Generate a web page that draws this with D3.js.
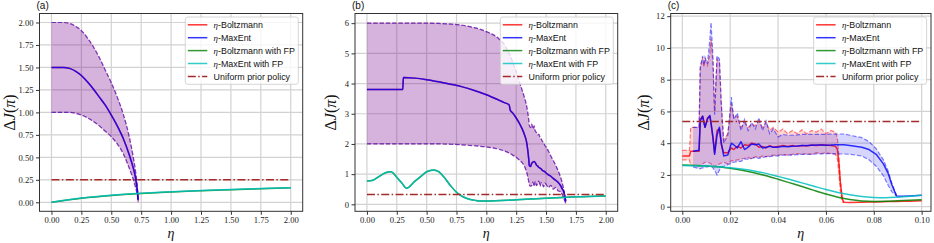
<!DOCTYPE html>
<html>
<head>
<meta charset="utf-8">
<script src="https://cdn.jsdelivr.net/npm/d3@7"></script>
<style>
body { margin: 0; background: #fff; }
svg { display: block; }
</style>
</head>
<body>
<script>
// ---- panel (a) ----
var etaA = [0, 0.05, 0.1, 0.15, 0.2, 0.25, 0.3, 0.35, 0.4, 0.45, 0.5, 0.55, 0.6, 0.65, 0.68, 0.7, 0.71, 0.72, 0.725];
var maxentA   = [1.5, 1.5, 1.5, 1.49, 1.46, 1.41, 1.34, 1.26, 1.17, 1.08, 0.97, 0.85, 0.71, 0.53, 0.4, 0.29, 0.21, 0.1, 0.02];
var maxentHiA = [2, 2, 2, 1.99, 1.96, 1.91, 1.83, 1.73, 1.61, 1.47, 1.33, 1.17, 0.98, 0.73, 0.53, 0.37, 0.27, 0.13, 0.02];
var maxentLoA = [1, 1, 1, 1, 0.99, 0.97, 0.94, 0.9, 0.85, 0.79, 0.73, 0.65, 0.54, 0.38, 0.27, 0.18, 0.13, 0.06, 0.0];
// boltzmann curves lie exactly under the maxent ones here
var boltzA = maxentA, boltzHiA = maxentHiA, boltzLoA = maxentLoA;
var etaFpA = [0, 0.25, 0.5, 0.75, 1, 1.25, 1.5, 1.75, 2];
var fpMaxentA = [0, 0.047, 0.078, 0.1, 0.117, 0.131, 0.143, 0.154, 0.163];
var fpBoltzA  = [0, 0.045, 0.076, 0.098, 0.115, 0.129, 0.141, 0.152, 0.161];

// ---- panel (b) ----
var etaB = [0, 0.1, 0.2, 0.3, 0.305, 0.4, 0.5, 0.6, 0.7, 0.8, 0.9, 1.0, 1.1, 1.15, 1.19, 1.2, 1.22, 1.25, 1.28, 1.3,
            1.32, 1.335, 1.345, 1.355, 1.36, 1.37, 1.38, 1.39, 1.4, 1.41, 1.42, 1.43, 1.44, 1.45, 1.46, 1.47, 1.48, 1.49,
            1.5, 1.52, 1.54, 1.56, 1.58, 1.6, 1.62, 1.635, 1.65, 1.665];
var maxentB   = [3.8, 3.8, 3.8, 3.8, 4.2, 4.18, 4.13, 4.06, 3.98, 3.89, 3.77, 3.63, 3.46, 3.37, 3.3, 3.12, 3.03, 2.86, 2.66, 2.5,
                 2.3, 2.1, 1.85, 1.5, 1.28, 1.25, 1.36, 1.4, 1.42, 1.38, 1.3, 1.27, 1.22, 1.2, 1.17, 1.12, 1.1, 1.08,
                 1.04, 0.98, 0.93, 0.86, 0.8, 0.73, 0.63, 0.52, 0.4, 0.1];
var maxentHiB = [6, 6, 6, 6, 6, 6, 6, 5.99, 5.97, 5.93, 5.85, 5.72, 5.5, 5.3, 5.0, 4.92, 4.72, 4.4, 4.02, 3.78,
                 3.52, 3.3, 3.08, 2.8, 2.62, 2.55, 2.66, 2.5, 2.6, 2.42, 2.38, 2.3, 2.32, 2.2, 2.16, 2.08, 2.04, 1.95,
                 1.9, 1.76, 1.6, 1.45, 1.3, 1.12, 0.92, 0.72, 0.45, 0.12];
var maxentLoB = [2, 2, 2, 2, 2, 2, 2, 2, 1.99, 1.97, 1.94, 1.9, 1.83, 1.77, 1.7, 1.68, 1.63, 1.56, 1.45, 1.38,
                 1.25, 1.1, 0.95, 0.75, 0.65, 0.6, 0.62, 0.74, 0.6, 0.76, 0.62, 0.7, 0.77, 0.6, 0.72, 0.66, 0.58, 0.7,
                 0.66, 0.56, 0.63, 0.5, 0.56, 0.45, 0.42, 0.33, 0.18, 0.04];
var boltzB = maxentB, boltzHiB = maxentHiB, boltzLoB = maxentLoB;
var etaFpB = [0, 0.05, 0.1, 0.15, 0.2, 0.25, 0.3, 0.33, 0.4, 0.45, 0.5, 0.56, 0.6, 0.65, 0.7, 0.75, 0.8, 0.85, 0.9, 0.95, 1.0, 1.25, 1.5, 1.75, 2.0];
var fpMaxentB = [0.77, 0.8, 0.92, 1.04, 1.08, 0.9, 0.67, 0.53, 0.76, 0.92, 1.08, 1.14, 1.08, 0.88, 0.62, 0.4, 0.26, 0.18, 0.14, 0.11, 0.11, 0.15, 0.2, 0.25, 0.28];
var fpBoltzB  = fpMaxentB;

// ---- panel (c) ----
var etaC = [0, 0.003, 0.0035, 0.0045, 0.007, 0.0075, 0.0085, 0.009, 0.0095, 0.0105,
            0.0115, 0.012, 0.0128, 0.0135, 0.0145, 0.0155, 0.0163, 0.0173, 0.019, 0.0205,
            0.0215, 0.023, 0.0245, 0.026, 0.0275, 0.029, 0.0305, 0.032, 0.0335, 0.035,
            0.0365, 0.038, 0.04, 0.042, 0.044, 0.046, 0.048, 0.05, 0.052, 0.054,
            0.056, 0.058, 0.06, 0.062, 0.064, 0.0648, 0.0655, 0.066, 0.0668, 0.0675,
            0.07, 0.075, 0.078, 0.081, 0.084, 0.086, 0.0875, 0.0895, 0.092, 0.095, 0.1];
var boltzC = [3.2, 3.2, 3.5, 3.5, 3.5, 5.5, 5.7, 5.4, 5.0, 5.6,
              5.7, 5.2, 4.3, 3.4, 4.8, 4.9, 3.9, 3.4, 3.4, 3.7,
              3.6, 3.8, 3.7, 3.9, 3.85, 4.0, 3.95, 3.75, 3.8, 3.7,
              3.85, 3.75, 3.8, 3.85, 3.8, 3.85, 3.8, 3.85, 3.82, 3.88,
              3.85, 3.9, 3.88, 3.85, 3.8, 3.6, 2.6, 1.6, 0.5, 0.28,
              0.27, 0.28, 0.29, 0.3, 0.31, 0.32, 0.32, 0.33, 0.34, 0.35, 0.38];
var boltzHiC = [3.55, 3.55, 5.0, 5.0, 5.0, 8.7, 9.4, 8.8, 9.3, 8.9,
                9.6, 10.6, 9.0, 6.0, 9.3, 9.1, 6.4, 4.2, 4.6, 6.5,
                5.6, 5.7, 5.0, 5.3, 5.0, 5.2, 5.1, 5.4, 5.0, 5.3,
                4.8, 5.0, 4.7, 4.9, 4.6, 4.8, 4.6, 4.85, 4.6, 4.8,
                4.7, 4.9, 4.6, 4.8, 4.7, 4.3, 3.0, 1.6, 0.6, 0.3,
                null, null, null, null, null, null, null, null, null, null, null];
var boltzLoC = [2.95, 2.95, 2.6, 2.58, 2.55, 2.6, 2.7, 2.75, 2.8, 2.8,
                2.75, 2.7, 2.6, 2.5, 2.6, 2.7, 2.75, 2.8, 2.7, 2.9,
                2.9, 2.95, 3.0, 3.05, 3.1, 3.0, 3.15, 3.1, 3.2, 3.15,
                3.2, 3.25, 3.25, 3.3, 3.25, 3.3, 3.35, 3.3, 3.35, 3.3,
                3.4, 3.35, 3.4, 3.35, 3.3, 3.0, 2.0, 1.0, 0.3, 0.26,
                null, null, null, null, null, null, null, null, null, null, null];
var maxentC = [null, null, null, 3.5, 3.55, 5.4, 5.7, 5.3, 5.0, 5.5,
               5.75, 5.3, 4.4, 3.3, 4.5, 5.0, 4.0, 3.2, 3.25, 4.0,
               3.9, 3.7, 4.1, 3.6, 3.75, 3.95, 3.9, 3.95, 3.7, 3.75,
               3.8, 3.75, 3.75, 3.8, 3.78, 3.8, 3.82, 3.85, 3.85, 3.87,
               3.88, 3.88, 3.87, 3.88, 3.9, 3.9, 3.9, 3.9, 3.9, 3.9,
               3.85, 3.75, 3.6, 3.3, 2.7, 2.1, 1.4, 0.67, 0.66, 0.68, 0.72];
var maxentHiC = [null, null, null, 5.0, 5.0, 8.8, 9.5, 8.9, 9.4, 9.0,
                 10.5, 11.6, 9.5, 5.8, 9.5, 9.3, 6.5, 4.0, 4.5, 6.9,
                 5.5, 5.9, 4.8, 5.5, 4.8, 5.3, 4.9, 5.6, 4.8, 5.4,
                 4.6, 4.9, 4.4, 4.55, 4.5, 4.5, 4.52, 4.55, 4.55, 4.55,
                 4.56, 4.56, 4.56, 4.57, 4.57, 4.58, 4.58, 4.58, 4.58, 4.58,
                 4.5, 4.35, 4.1, 3.65, 2.95, 2.25, 1.5, 0.7, null, null, null];
var maxentLoC = [null, null, null, 2.5, 2.4, 2.4, 2.45, 2.45, 2.5, 2.5,
                 2.55, 2.55, 2.45, 2.3, 2.0, 2.3, 2.5, 2.55, 2.65, 2.75,
                 2.8, 2.85, 2.85, 3.0, 3.0, 3.05, 3.1, 3.05, 3.1, 3.15,
                 3.15, 3.2, 3.2, 3.25, 3.25, 3.25, 3.28, 3.3, 3.3, 3.3,
                 3.32, 3.33, 3.35, 3.34, 3.33, 3.33, 3.33, 3.32, 3.32, 3.32,
                 3.3, 3.2, 2.95, 2.55, 1.95, 1.35, 0.95, 0.67, null, null, null];
var etaFpC = [0, 0.01, 0.02, 0.03, 0.035, 0.04, 0.045, 0.05, 0.055, 0.06, 0.065, 0.07, 0.075, 0.08, 0.085, 0.09, 0.095, 0.1];
var fpBoltzC  = [2.63, 2.56, 2.42, 2.14, 1.95, 1.73, 1.5, 1.27, 1.03, 0.8, 0.6, 0.45, 0.36, 0.33, 0.34, 0.37, 0.4, 0.43];
var fpMaxentC = [2.6, 2.56, 2.45, 2.25, 2.1, 1.91, 1.71, 1.5, 1.29, 1.08, 0.9, 0.75, 0.64, 0.58, 0.56, 0.6, 0.66, 0.72];

var uniformPrior = [0.25, 0.33, 5.36];

var ticksXAB = [0, 0.25, 0.5, 0.75, 1, 1.25, 1.5, 1.75, 2];
var ticksYA = [0, 0.25, 0.5, 0.75, 1, 1.25, 1.5, 1.75, 2];
var ticksYB = [0, 1, 2, 3, 4, 5, 6];
var ticksXC = [0, 0.02, 0.04, 0.06, 0.08, 0.1];
var ticksYC = [0, 2, 4, 6, 8, 10, 12];

var legendLabels = [
    {eta: true, text: "-Boltzmann"},
    {eta: true, text: "-MaxEnt"},
    {eta: true, text: "-Boltzmann with FP"},
    {eta: true, text: "-MaxEnt with FP"},
    {eta: false, text: "Uniform prior policy"}
];

var RED = "#ff0000", BLUE = "#0000ff", GREEN = "#008000", CYAN = "#00bfbf", BROWN = "#a52a2a";
var SERIF = "'Liberation Serif', 'DejaVu Serif', serif";
var SANS = "'Liberation Sans', Arial, sans-serif";
var TOP = 13.5, BOTTOM = 211.3;
var LEG_W = 113, LEG_H = 67.3;

var svg = d3.select("body").append("svg").attr("width", 934).attr("height", 243);

var panels = [
    {key: "a", tag: "(a)", left: 39.5, right: 302.7, xdom: [-0.1, 2.1], ydom: [-0.1, 2.1], ylab: 24.5,
     xticks: ticksXAB, yticks: ticksYA, xfmt: ".2f", yfmt: ".2f", curve: d3.curveMonotoneX,
     eta: etaA, bands: [[boltzA, boltzHiA, boltzLoA, RED], [maxentA, maxentHiA, maxentLoA, BLUE]],
     etaFp: etaFpA, fp: [[fpBoltzA, GREEN], [fpMaxentA, CYAN]], uniform: uniformPrior[0], xmax: 2},
    {key: "b", tag: "(b)", left: 355, right: 617.7, xdom: [-0.1, 2.1], ydom: [-0.23, 6.32], ylab: 19,
     xticks: ticksXAB, yticks: ticksYB, xfmt: ".2f", yfmt: "d", curve: d3.curveMonotoneX,
     eta: etaB, bands: [[boltzB, boltzHiB, boltzLoB, RED], [maxentB, maxentHiB, maxentLoB, BLUE]],
     etaFp: etaFpB, fp: [[fpBoltzB, GREEN], [fpMaxentB, CYAN]], uniform: uniformPrior[1], xmax: 2},
    {key: "c", tag: "(c)", left: 670.7, right: 931, xdom: [-0.00485, 0.1039], ydom: [-0.29, 12.17], ylab: 22,
     xticks: ticksXC, yticks: ticksYC, xfmt: ".2f", yfmt: "d", curve: d3.curveLinear,
     eta: etaC, bands: [[boltzC, boltzHiC, boltzLoC, RED], [maxentC, maxentHiC, maxentLoC, BLUE]],
     etaFp: etaFpC, fp: [[fpBoltzC, GREEN], [fpMaxentC, CYAN]], uniform: uniformPrior[2], xmax: 0.1}
];

function drawPanel(p) {
    var x = d3.scaleLinear().domain(p.xdom).range([p.left, p.right]);
    var y = d3.scaleLinear().domain(p.ydom).range([BOTTOM, TOP]);
    var g = svg.append("g");

    svg.append("clipPath").attr("id", "clip" + p.key)
        .append("rect").attr("x", p.left).attr("y", TOP)
        .attr("width", p.right - p.left).attr("height", BOTTOM - TOP);

    // grid
    g.selectAll(".gx").data(p.xticks).join("line")
        .attr("x1", function(d) { return x(d); }).attr("x2", function(d) { return x(d); })
        .attr("y1", TOP).attr("y2", BOTTOM)
        .attr("stroke", "#d2d2d2").attr("stroke-width", 1.2);
    g.selectAll(".gy").data(p.yticks).join("line")
        .attr("y1", function(d) { return y(d); }).attr("y2", function(d) { return y(d); })
        .attr("x1", p.left).attr("x2", p.right)
        .attr("stroke", "#d2d2d2").attr("stroke-width", 1.2);

    var plot = g.append("g").attr("clip-path", "url(#clip" + p.key + ")");

    function linePath(xs, ys, curve) {
        return d3.line()
            .defined(function(d, i) { return ys[i] != null; })
            .x(function(d, i) { return x(xs[i]); })
            .y(function(d, i) { return y(ys[i]); })
            .curve(curve)(xs);
    }
    function areaPath(xs, hi, lo, curve) {
        return d3.area()
            .defined(function(d, i) { return hi[i] != null && lo[i] != null; })
            .x(function(d, i) { return x(xs[i]); })
            .y0(function(d, i) { return y(lo[i]); })
            .y1(function(d, i) { return y(hi[i]); })
            .curve(curve)(xs);
    }

    p.bands.forEach(function(b) {
        plot.append("path").attr("d", areaPath(p.eta, b[1], b[2], p.curve))
            .attr("fill", b[3]).attr("fill-opacity", 0.16).attr("stroke", "none");
        [b[1], b[2]].forEach(function(ys) {
            plot.append("path").attr("d", linePath(p.eta, ys, p.curve))
                .attr("fill", "none").attr("stroke", b[3]).attr("stroke-opacity", 0.5)
                .attr("stroke-width", 1.2).attr("stroke-dasharray", "4.4,1.9");
        });
        plot.append("path").attr("d", linePath(p.eta, b[0], p.curve))
            .attr("fill", "none").attr("stroke", b[3]).attr("stroke-opacity", 0.8)
            .attr("stroke-width", 1.5).attr("stroke-linejoin", "round");
    });

    p.fp.forEach(function(f) {
        plot.append("path").attr("d", linePath(p.etaFp, f[0], d3.curveMonotoneX))
            .attr("fill", "none").attr("stroke", f[1]).attr("stroke-opacity", 0.85)
            .attr("stroke-width", 1.5);
    });

    plot.append("line")
        .attr("x1", x(0)).attr("x2", x(p.xmax))
        .attr("y1", y(p.uniform)).attr("y2", y(p.uniform))
        .attr("stroke", BROWN).attr("stroke-width", 1.5)
        .attr("stroke-dasharray", "8,2.4,1.5,2.4");

    // frame
    g.append("rect").attr("x", p.left).attr("y", TOP)
        .attr("width", p.right - p.left).attr("height", BOTTOM - TOP)
        .attr("fill", "none").attr("stroke", "#333").attr("stroke-width", 1);

    var ax = g.append("g").attr("transform", "translate(0," + BOTTOM + ")")
        .call(d3.axisBottom(x).tickValues(p.xticks).tickFormat(d3.format(p.xfmt))
            .tickSize(3.5).tickPadding(2));
    var ay = g.append("g").attr("transform", "translate(" + p.left + ",0)")
        .call(d3.axisLeft(y).tickValues(p.yticks).tickFormat(d3.format(p.yfmt))
            .tickSize(3.5).tickPadding(2.5));
    [ax, ay].forEach(function(a) {
        a.select(".domain").remove();
        a.attr("font-family", SERIF).attr("font-size", 8.6);
        a.selectAll("line").attr("stroke", "#333");
        a.selectAll("text").attr("fill", "#222");
    });

    // labels
    g.append("text").attr("x", p.left - 3).attr("y", 8.5)
        .attr("font-family", SANS).attr("font-size", 10).attr("fill", "#111").text(p.tag);
    g.append("text").attr("x", (p.left + p.right) / 2).attr("y", 237.5)
        .attr("text-anchor", "middle").attr("font-family", SERIF).attr("font-style", "italic")
        .attr("font-size", 14).attr("fill", "#111").text("η");
    var yl = g.append("text")
        .attr("transform", "translate(" + (p.left - p.ylab) + "," + ((TOP + BOTTOM) / 2) + ") rotate(-90)")
        .attr("text-anchor", "middle").attr("font-family", SERIF).attr("font-size", 16).attr("fill", "#111");
    yl.append("tspan").text("Δ");
    yl.append("tspan").attr("font-style", "italic").text("J");
    yl.append("tspan").text("(");
    yl.append("tspan").attr("font-style", "italic").text("π");
    yl.append("tspan").text(")");

    // legend
    var lg = g.append("g").attr("transform", "translate(" + (p.right - 4.4 - LEG_W) + "," + 17 + ")");
    lg.append("rect").attr("width", LEG_W).attr("height", LEG_H).attr("rx", 2.5)
        .attr("fill", "#fff").attr("fill-opacity", 0.8)
        .attr("stroke", "#cccccc").attr("stroke-width", 0.8);
    var legColors = [RED, BLUE, GREEN, CYAN, BROWN];
    legendLabels.forEach(function(it, i) {
        var yy = 7.8 + i * 12.9;
        var ln = lg.append("line").attr("x1", 2.5).attr("x2", 22).attr("y1", yy).attr("y2", yy)
            .attr("stroke", legColors[i]).attr("stroke-width", 1.5)
            .attr("stroke-opacity", i < 4 ? 0.8 : 1);
        if (i == 4) ln.attr("stroke-dasharray", "8,2.4,1.5,2.4");
        var t = lg.append("text").attr("x", 28.3).attr("y", yy + 3.2)
            .attr("font-family", SANS).attr("font-size", 8.9).attr("fill", "#111");
        if (it.eta) t.append("tspan").attr("font-family", SERIF).attr("font-style", "italic").text("η");
        t.append("tspan").text(it.text);
    });
}

panels.forEach(drawPanel);
</script>
</body>
</html>
